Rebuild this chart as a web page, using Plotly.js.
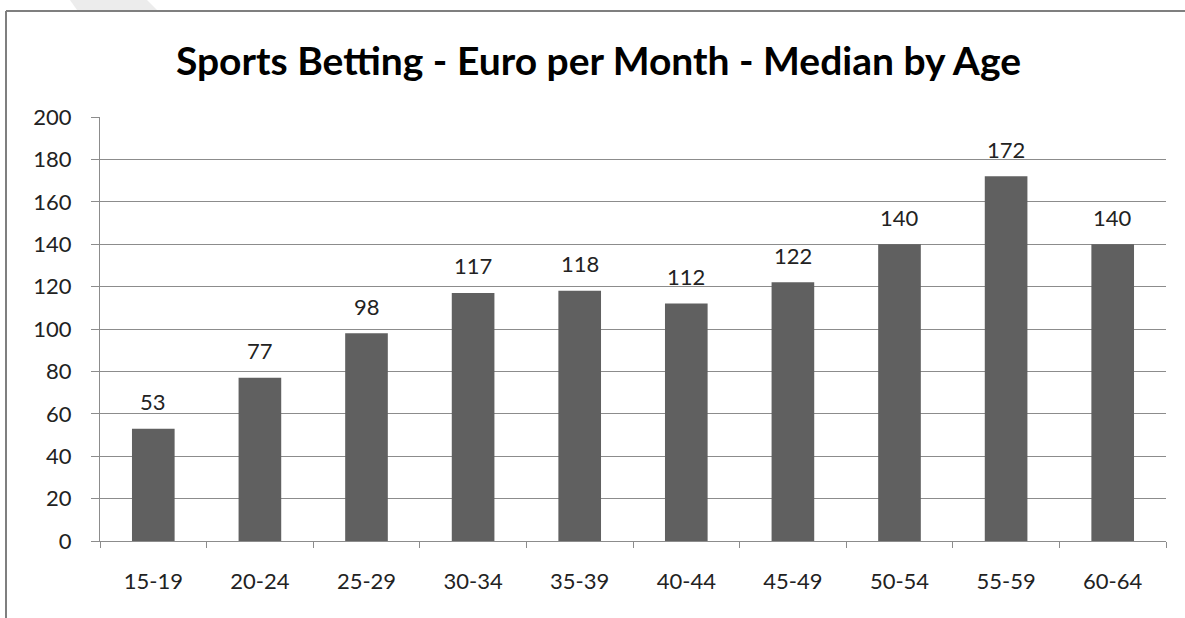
<!DOCTYPE html>
<html>
<head>
<meta charset="utf-8">
<script src="https://cdn.plot.ly/plotly-3.0.1.min.js"></script>
<style>
html,body{margin:0;padding:0;background:#fff;}
#chart{width:1185px;height:618px;}
</style>
</head>
<body>
<div id="chart"></div>
<script>
const categories = ["15-19","20-24","25-29","30-34","35-39","40-44","45-49","50-54","55-59","60-64"];
const medianEuro = [53, 77, 98, 117, 118, 112, 122, 140, 172, 140];
const yTicks = [0,20,40,60,80,100,120,140,160,180,200];

const fontFam = "Lato, 'Open Sans', sans-serif";

// plot area in pixels (for decorative frame shapes)
const PL = 100, PR = 1166, PT = 117, PB = 541;
const px = v => (v - PL) / (PR - PL);
const py = v => (PB - v) / (PB - PT);

const trace = {
  type: 'bar',
  x: categories,
  y: medianEuro,
  marker: {color: '#606060', line: {width: 0}},
  hoverinfo: 'x+y'
};

const annotations = categories.map((c, i) => ({
  x: c, y: medianEuro[i], xref: 'x', yref: 'y',
  text: String(medianEuro[i]),
  showarrow: false, yanchor: 'middle', yshift: 27,
  font: {family: fontFam, size: 22, color: '#222'}
}));

const layout = {
  width: 1185, height: 618,
  margin: {l: PL, r: 1185 - PR, t: PT, b: 618 - PB},
  paper_bgcolor: '#fff', plot_bgcolor: '#fff',
  title: {
    text: 'Sports Betting - Euro per Month - Median by Age',
    font: {family: fontFam, size: 39, color: '#000', weight: 'bold'},
    x: 0.505, xanchor: 'center', xref: 'container',
    y: 1 - 61/618, yanchor: 'middle', yref: 'container'
  },
  bargap: 0.6,
  showlegend: false,
  xaxis: {
    type: 'category',
    showgrid: false,
    showline: true, linecolor: '#8c8c8c', linewidth: 1,
    ticks: 'outside', ticklen: 6, tickcolor: '#8c8c8c',
    tickson: 'boundaries',
    ticklabelstandoff: 21,
    tickfont: {family: fontFam, size: 22, color: '#222'},
    zeroline: false
  },
  yaxis: {
    range: [0, 200],
    tickvals: yTicks,
    showgrid: true, gridcolor: '#8c8c8c', gridwidth: 1,
    showline: true, linecolor: '#8c8c8c', linewidth: 1,
    ticks: 'outside', ticklen: 8, tickcolor: '#8c8c8c',
    ticklabelstandoff: 15,
    tickfont: {family: fontFam, size: 22, color: '#222'},
    zeroline: false
  },
  annotations: annotations,
  shapes: [
    {type: 'path', xref: 'paper', yref: 'paper', layer: 'below',
     path: `M ${px(70)} ${py(0)} L ${px(147)} ${py(0)} L ${px(157)} ${py(10)} L ${px(77)} ${py(10)} Z`,
     fillcolor: '#ececec', line: {width: 0}},
    {type: 'line', xref: 'paper', yref: 'paper', x0: px(6), x1: px(1250), y0: py(11), y1: py(11),
     line: {color: '#7f7f7f', width: 2}},
    {type: 'line', xref: 'paper', yref: 'paper', x0: px(6), x1: px(6), y0: py(11), y1: py(700),
     line: {color: '#7f7f7f', width: 2}}
  ]
};

Plotly.newPlot('chart', [trace], layout, {displayModeBar: false, staticPlot: true});
</script>
</body>
</html>
